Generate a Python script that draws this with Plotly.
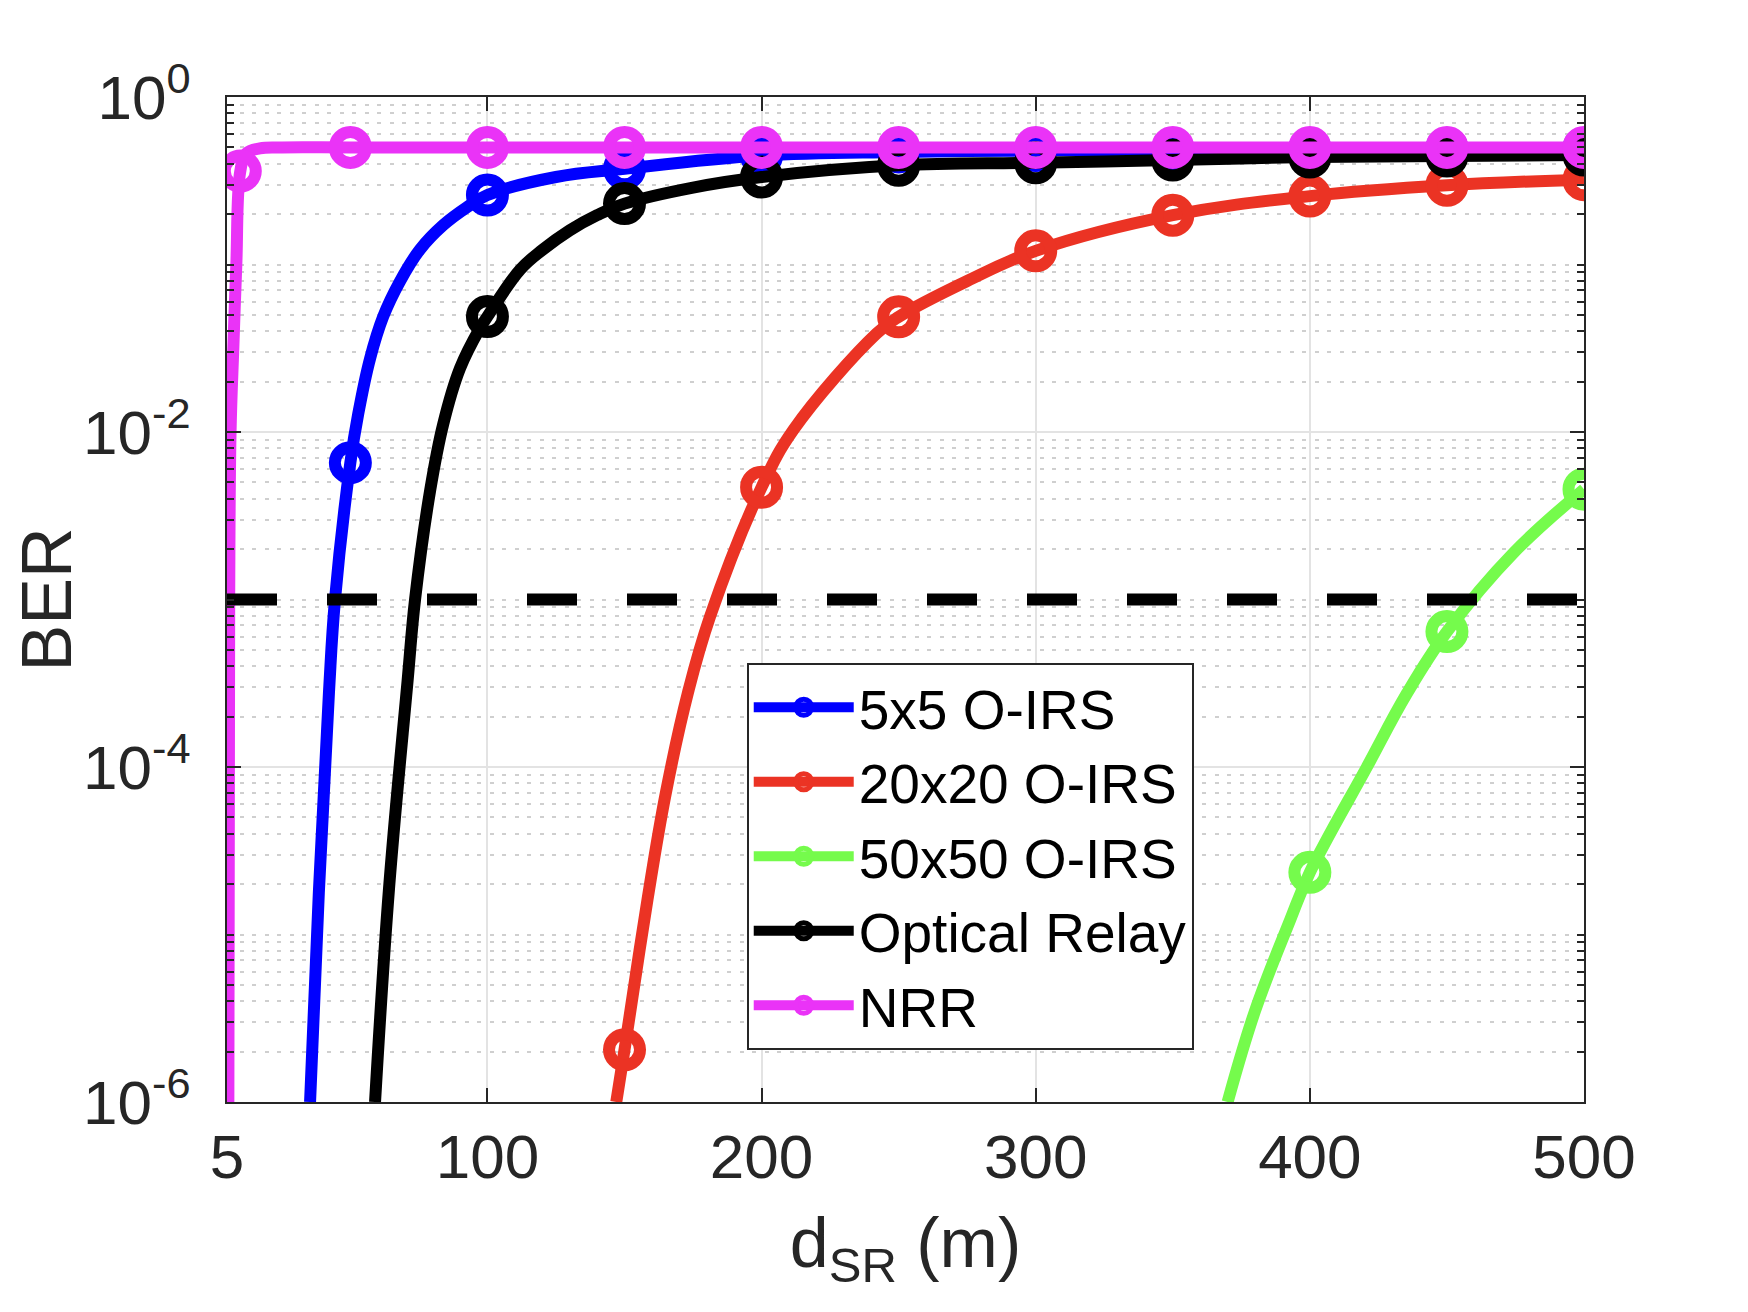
import plotly.graph_objects as go

# distance source-relay (m) and BER values
x_5x5 = [35.3, 38.5, 42.2, 44.4, 50, 52.9, 57.2, 62.0, 68.1, 75.4, 83.9, 92.4, 100, 125, 150, 200, 250, 300, 350, 400, 450, 500]
ber_5x5 = [1e-6, 1.78e-5, 2.8e-4, 1.0e-3, 6.56e-3, 1.29e-2, 2.75e-2, 4.9e-2, 7.94e-2, 0.123, 0.172, 0.219, 0.260, 0.333, 0.373, 0.447, 0.470, 0.479, 0.484, 0.489, 0.493, 0.495]

x_20x20 = [147, 150, 158.4, 165, 173.2, 181.2, 200, 211.6, 242, 250, 275, 300, 350, 400, 450, 500]
ber_20x20 = [1e-6, 2.05e-6, 1.62e-5, 6.9e-5, 2.8e-4, 7.9e-4, 4.68e-3, 1.03e-2, 3.88e-2, 4.87e-2, 7.97e-2, 0.1206, 0.197, 0.256, 0.297, 0.321]

x_50x50 = [370, 380, 392.8, 400, 420.8, 435.4, 450, 474.3, 500]
ber_50x50 = [1e-6, 3.5e-6, 1.22e-5, 2.35e-5, 1.0e-4, 2.75e-4, 6.43e-4, 1.9e-3, 4.55e-3]

x_relay = [59, 64.1, 70.9, 73.6, 79.1, 83.9, 90.0, 97.3, 100, 111.9, 120, 130, 140, 150, 175, 200, 250, 300, 350, 400, 450, 500]
ber_relay = [1e-6, 1.88e-5, 3.31e-4, 1.0e-3, 4.47e-3, 1.12e-2, 2.4e-2, 4.17e-2, 4.89e-2, 9.3e-2, 0.122, 0.160, 0.197, 0.231, 0.288, 0.333, 0.391, 0.405, 0.420, 0.438, 0.444, 0.451]

x_nrr = [5.5, 5.8, 6.3, 7.3, 8.4, 9.85, 12, 17, 25, 50, 100, 150, 200, 250, 300, 350, 400, 450, 500]
ber_nrr = [1e-6, 1e-3, 1e-2, 0.0316, 0.1, 0.361, 0.461, 0.494, 0.5, 0.5, 0.5, 0.5, 0.5, 0.5, 0.5, 0.5, 0.5, 0.5, 0.5]

# x positions where the circle markers sit
marker_x = [50, 100, 150, 200, 250, 300, 350, 400, 450, 500]
marker_x_nrr = [9.85] + marker_x

ber_target = 1e-3

series = [
    ("5x5 O-IRS", x_5x5, ber_5x5, marker_x, "#0000FF"),
    ("20x20 O-IRS", x_20x20, ber_20x20, marker_x, "#EB3324"),
    ("50x50 O-IRS", x_50x50, ber_50x50, marker_x, "#75FB4C"),
    ("Optical Relay", x_relay, ber_relay, marker_x, "#000000"),
    ("NRR", x_nrr, ber_nrr, marker_x_nrr, "#EA33F7"),
]

FONT = "Liberation Sans"
LW = 12

fig = go.Figure()

for name, xs, ys, mx, color in series:
    # smooth curve
    fig.add_trace(go.Scatter(x=xs, y=ys, mode="lines", showlegend=False,
                             line=dict(color=color, width=LW, shape="spline", smoothing=1.1)))
    # markers, only at the marked distances
    mk = [(xv, yv) for xv, yv in zip(xs, ys) if xv in mx]
    fig.add_trace(go.Scatter(x=[p[0] for p in mk], y=[p[1] for p in mk], mode="markers",
                             showlegend=False,
                             marker=dict(symbol="circle-open", size=31, color=color,
                                         line=dict(width=LW, color=color))))
    # legend entry
    fig.add_trace(go.Scatter(x=[None], y=[None], mode="lines+markers", name=name,
                             line=dict(color=color, width=LW),
                             marker=dict(symbol="circle-open", size=31, color=color,
                                         line=dict(width=LW, color=color))))

# BER threshold
fig.add_trace(go.Scatter(x=[5, 500], y=[ber_target, ber_target], mode="lines", showlegend=False,
                         line=dict(color="black", width=LW, dash="50px,50px")))

major_y = [1e-6, 1e-4, 1e-2, 1]
minor_y = []
for e in range(-6, 0):
    for m in range(1, 10):
        v = m * 10.0 ** e
        if m == 1 and e % 2 == 0:
            continue
        minor_y.append(v)

# the page body adds 8px around the figure, so the figure is 16px smaller
fig.update_layout(
    width=1732, height=1296,
    margin=dict(l=219, r=156, t=89, b=202),
    paper_bgcolor="white", plot_bgcolor="white",
    font=dict(family=FONT, color="#262626", size=62),
    legend=dict(x=0.383, y=0.4368, xanchor="left", yanchor="top",
                bgcolor="white", bordercolor="#262626", borderwidth=2,
                font=dict(family=FONT, size=55, color="black"),
                itemwidth=100, tracegroupgap=0),
)

fig.update_xaxes(
    range=[5, 500], tickvals=[5, 100, 200, 300, 400, 500], automargin=False,
    ticks="inside", ticklen=14, tickwidth=2, tickcolor="#262626",
    showline=True, linecolor="#262626", linewidth=2, mirror="ticks",
    showgrid=True, gridcolor="#E3E3E3", gridwidth=2, zeroline=False,
    tickfont=dict(size=62, color="#262626"), ticklabelstandoff=0,
    title=dict(text="d<sub>SR</sub> (m)", font=dict(size=70, color="#262626"), standoff=28),
)

fig.update_yaxes(
    type="log", range=[-6, 0], tickvals=major_y, automargin=False,
    ticktext=["10<sup>-6</sup>", "10<sup>-4</sup>", "10<sup>-2</sup>", "10<sup>0</sup>"],
    ticks="inside", ticklen=14, tickwidth=2, tickcolor="#262626",
    showline=True, linecolor="#262626", linewidth=2, mirror="ticks",
    showgrid=True, gridcolor="#E3E3E3", gridwidth=2, zeroline=False,
    tickfont=dict(size=62, color="#262626"), ticklabelstandoff=22,
    minor=dict(tickmode="array", tickvals=minor_y, ticks="inside", ticklen=7,
               tickwidth=2, tickcolor="#262626", showgrid=True,
               gridcolor="#CFCFCF", gridwidth=2, griddash="4px,8.5px"),
    title=dict(text="BER", font=dict(size=70, color="#262626"), standoff=26),
)

fig.write_html("out.html")
